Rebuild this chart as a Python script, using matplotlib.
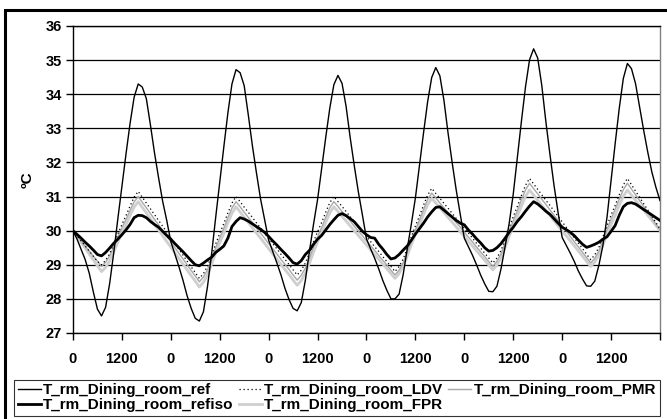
import numpy as np
import matplotlib
matplotlib.use("Agg")
import matplotlib.pyplot as plt
from matplotlib.patches import Rectangle

plt.rcParams['font.family'] = ['Liberation Sans', 'DejaVu Sans']
plt.rcParams['font.weight'] = 'bold'

# hourly room temperatures, 6 days (145 samples, hour 0 .. 144)
t_ref = [
    30.0, 29.75, 29.45, 29.15, 28.75, 28.2, 27.7, 27.5, 27.75, 28.45, 29.35, 30.34,
    31.29, 32.24, 33.14, 33.91, 34.3, 34.21, 33.87, 33.1, 32.28, 31.55, 30.86, 30.3,
    29.68, 29.31, 28.94, 28.54, 28.09, 27.72, 27.43, 27.35, 27.62, 28.36, 29.31, 30.38,
    31.42, 32.45, 33.45, 34.3, 34.72, 34.63, 34.25, 33.4, 32.5, 31.7, 30.94, 30.33,
    29.72, 29.39, 29.06, 28.71, 28.31, 27.98, 27.72, 27.65, 27.89, 28.54, 29.39, 30.18,
    30.91, 31.82, 32.73, 33.59, 34.28, 34.55, 34.32, 33.64, 32.73, 31.91, 31.14, 30.46,
    29.76, 29.47, 29.19, 28.88, 28.54, 28.25, 28.0, 28.0, 28.14, 28.71, 29.47, 30.19,
    30.96, 31.91, 32.87, 33.78, 34.49, 34.78, 34.54, 33.82, 32.87, 32.01, 31.2, 30.48,
    29.78, 29.53, 29.28, 29.0, 28.7, 28.44, 28.22, 28.21, 28.37, 28.88, 29.53, 30.21,
    31.07, 32.13, 33.2, 34.21, 35.01, 35.33, 35.06, 34.26, 33.2, 32.24, 31.33, 30.53,
    29.8, 29.57, 29.34, 29.09, 28.81, 28.58, 28.38, 28.37, 28.52, 28.98, 29.57, 30.39,
    31.47, 32.55, 33.58, 34.46, 34.9, 34.75, 34.31, 33.63, 32.94, 32.3, 31.72, 31.27,
    30.88,
]

t_refiso = [
    30.0, 29.89, 29.78, 29.66, 29.55, 29.43, 29.3, 29.26, 29.36, 29.49, 29.63, 29.75,
    29.88, 30.02, 30.18, 30.38, 30.45, 30.44, 30.38, 30.27, 30.18, 30.1, 29.98, 29.86,
    29.75, 29.62, 29.5, 29.38, 29.25, 29.12, 29.0, 28.97, 29.05, 29.14, 29.22, 29.36,
    29.45, 29.55, 29.78, 30.12, 30.27, 30.38, 30.34, 30.28, 30.2, 30.12, 30.04, 29.95,
    29.83, 29.7, 29.58, 29.45, 29.33, 29.2, 29.06, 29.02, 29.12, 29.3, 29.42, 29.6,
    29.75, 29.86, 30.02, 30.18, 30.32, 30.45, 30.5, 30.44, 30.35, 30.26, 30.12, 29.98,
    29.88, 29.8, 29.78, 29.6, 29.46, 29.3, 29.17, 29.2, 29.3, 29.43, 29.55, 29.72,
    29.9, 30.06, 30.22, 30.4, 30.55, 30.68, 30.7, 30.6, 30.5, 30.4, 30.3, 30.22,
    30.17, 30.02, 29.9, 29.76, 29.64, 29.5, 29.4, 29.42, 29.5, 29.62, 29.78, 29.95,
    30.1, 30.27, 30.41, 30.57, 30.72, 30.85, 30.78, 30.68, 30.57, 30.48, 30.35, 30.22,
    30.1, 30.03, 29.95, 29.85, 29.72, 29.6, 29.51, 29.55, 29.6, 29.66, 29.75, 29.82,
    29.98, 30.15, 30.45, 30.7, 30.8, 30.82, 30.78, 30.7, 30.62, 30.54, 30.46, 30.38,
    30.3,
]

t_ldv = [
    30.0, 29.85, 29.7, 29.55, 29.4, 29.25, 29.1, 29.0, 29.13, 29.32, 29.6, 29.9,
    30.18, 30.44, 30.72, 30.98, 31.15, 30.98, 30.81, 30.64, 30.47, 30.3, 30.13, 29.96,
    29.79, 29.62, 29.45, 29.28, 29.11, 28.94, 28.77, 28.6, 28.74, 28.96, 29.27, 29.61,
    29.92, 30.21, 30.52, 30.81, 31.0, 30.85, 30.69, 30.54, 30.39, 30.23, 30.08, 29.93,
    29.77, 29.62, 29.47, 29.31, 29.16, 29.01, 28.85, 28.7, 28.84, 29.05, 29.34, 29.67,
    29.97, 30.24, 30.54, 30.82, 31.0, 30.85, 30.71, 30.56, 30.41, 30.27, 30.12, 29.97,
    29.83, 29.68, 29.53, 29.39, 29.24, 29.09, 28.95, 28.8, 28.95, 29.17, 29.48, 29.82,
    30.14, 30.43, 30.75, 31.04, 31.24, 31.09, 30.95, 30.8, 30.66, 30.51, 30.36, 30.22,
    30.07, 29.93, 29.78, 29.63, 29.49, 29.34, 29.2, 29.05, 29.2, 29.42, 29.74, 30.09,
    30.41, 30.71, 31.03, 31.33, 31.53, 31.37, 31.21, 31.05, 30.89, 30.74, 30.58, 30.42,
    30.26, 30.1, 29.94, 29.78, 29.63, 29.47, 29.31, 29.15, 29.29, 29.51, 29.82, 30.15,
    30.46, 30.74, 31.05, 31.34, 31.53, 31.35, 31.16, 30.98, 30.79, 30.61, 30.42, 30.24,
    30.05,
]

t_pmr = [
    30.0, 29.85, 29.7, 29.55, 29.4, 29.25, 29.1, 28.95, 29.07, 29.26, 29.52, 29.81,
    30.08, 30.32, 30.59, 30.84, 31.0, 30.83, 30.67, 30.5, 30.33, 30.17, 30.0, 29.83,
    29.67, 29.5, 29.33, 29.17, 29.0, 28.83, 28.67, 28.5, 28.64, 28.85, 29.16, 29.49,
    29.79, 30.07, 30.38, 30.66, 30.85, 30.7, 30.54, 30.39, 30.24, 30.08, 29.93, 29.78,
    29.62, 29.47, 29.32, 29.16, 29.01, 28.86, 28.7, 28.55, 28.69, 28.9, 29.19, 29.52,
    29.82, 30.09, 30.39, 30.67, 30.85, 30.71, 30.56, 30.42, 30.28, 30.13, 29.99, 29.85,
    29.7, 29.56, 29.42, 29.27, 29.13, 28.99, 28.84, 28.7, 28.84, 29.06, 29.37, 29.71,
    30.02, 30.31, 30.62, 30.91, 31.1, 30.96, 30.81, 30.67, 30.53, 30.38, 30.24, 30.1,
    29.95, 29.81, 29.67, 29.52, 29.38, 29.24, 29.09, 28.95, 29.1, 29.32, 29.63, 29.97,
    30.29, 30.58, 30.9, 31.19, 31.39, 31.23, 31.08, 30.92, 30.77, 30.61, 30.45, 30.3,
    30.14, 29.99, 29.83, 29.67, 29.52, 29.36, 29.21, 29.05, 29.19, 29.4, 29.71, 30.03,
    30.34, 30.62, 30.92, 31.2, 31.39, 31.22, 31.05, 30.88, 30.71, 30.54, 30.36, 30.19,
    30.02,
]

t_fpr = [
    30.0, 29.83, 29.66, 29.49, 29.31, 29.14, 28.97, 28.8, 28.92, 29.11, 29.37, 29.66,
    29.93, 30.17, 30.44, 30.69, 30.85, 30.68, 30.52, 30.35, 30.18, 30.02, 29.85, 29.68,
    29.52, 29.35, 29.18, 29.02, 28.85, 28.68, 28.52, 28.35, 28.49, 28.7, 29.01, 29.34,
    29.64, 29.92, 30.23, 30.51, 30.7, 30.55, 30.39, 30.24, 30.09, 29.93, 29.78, 29.63,
    29.47, 29.32, 29.17, 29.01, 28.86, 28.71, 28.55, 28.4, 28.54, 28.75, 29.04, 29.37,
    29.67, 29.94, 30.24, 30.52, 30.7, 30.56, 30.42, 30.28, 30.14, 30.0, 29.86, 29.72,
    29.58, 29.44, 29.3, 29.16, 29.02, 28.88, 28.74, 28.6, 28.74, 28.95, 29.26, 29.59,
    29.89, 30.17, 30.48, 30.76, 30.95, 30.81, 30.67, 30.53, 30.39, 30.25, 30.11, 29.97,
    29.83, 29.69, 29.55, 29.41, 29.27, 29.13, 28.99, 28.85, 28.99, 29.2, 29.51, 29.83,
    30.14, 30.42, 30.72, 31.0, 31.19, 31.04, 30.89, 30.74, 30.59, 30.44, 30.29, 30.14,
    29.99, 29.85, 29.7, 29.55, 29.4, 29.25, 29.1, 28.95, 29.08, 29.29, 29.58, 29.89,
    30.18, 30.45, 30.74, 31.01, 31.19, 31.04, 30.89, 30.74, 30.6, 30.45, 30.3, 30.15,
    30.0,
]

hours = np.arange(len(t_ref))
tick_pos = np.arange(0, 145, 12)
tick_lab = ['0', '1200'] * 6 + ['']

fig = plt.figure(figsize=(6.67, 4.19), dpi=100)
ax = fig.add_axes([0.1094, 0.2053, 0.8801, 0.7327])

# thin/light series underneath, reference curves on top
l_fpr, = ax.plot(hours, t_fpr, color='#cfcfcf', lw=2.0, label='T_rm_Dining_room_FPR', zorder=2)
l_pmr, = ax.plot(hours, t_pmr, color='#a8a8a8', lw=1.0, label='T_rm_Dining_room_PMR', zorder=3)
l_ldv, = ax.plot(hours, t_ldv, color='black', lw=0.9, ls=(0, (1, 2.2)), label='T_rm_Dining_room_LDV', zorder=4)
l_iso, = ax.plot(hours, t_refiso, color='black', lw=2.0, label='T_rm_Dining_room_refiso', zorder=5)
l_ref, = ax.plot(hours, t_ref, color='black', lw=1.0, label='T_rm_Dining_room_ref', zorder=6)

ax.set_xlim(0, 144)
ax.set_ylim(27, 36)
ax.set_yticks(np.arange(27, 37, 1))
ax.set_xticks(tick_pos)
ax.set_xticklabels(tick_lab)
ax.yaxis.grid(True, color='black', lw=0.9)
ax.set_axisbelow(True)
ax.tick_params(axis='both', direction='out', length=5, width=1, labelsize=10.5, pad=3)
ax.tick_params(axis='x', pad=9)
for lab in ax.get_xticklabels() + ax.get_yticklabels():
    lab.set_fontweight('bold')
for s in ax.spines.values():
    s.set_color('black')
    s.set_linewidth(1.0)
ax.spines['right'].set_color('#808080')

fig.text(28 / 667, 1 - 180 / 419, '\u00baC', rotation=90, ha='center', va='center',
         fontsize=11, fontweight='bold')

handles = [l_ref, l_iso, l_ldv, l_fpr, l_pmr]
leg = fig.legend(handles=handles, labels=[h.get_label() for h in handles],
                 loc='lower left', bbox_to_anchor=(14 / 667, 3 / 419, 646 / 667, 44 / 419),
                 mode='expand', ncol=3, frameon=True, fancybox=False,
                 edgecolor='black', borderaxespad=0, handlelength=1.5, handletextpad=0.15,
                 labelspacing=0.05, borderpad=0.25, columnspacing=0.6,
                 prop={'weight': 'bold', 'size': 11})
leg.get_frame().set_linewidth(0.8)

# outer chart frame
fig.patches.append(Rectangle((5 / 667, -0.1), 1.2, 1 - 10 / 419 + 0.1, transform=fig.transFigure,
                             fill=False, edgecolor='black', lw=2.2))

fig.savefig('out.png', dpi=100)
